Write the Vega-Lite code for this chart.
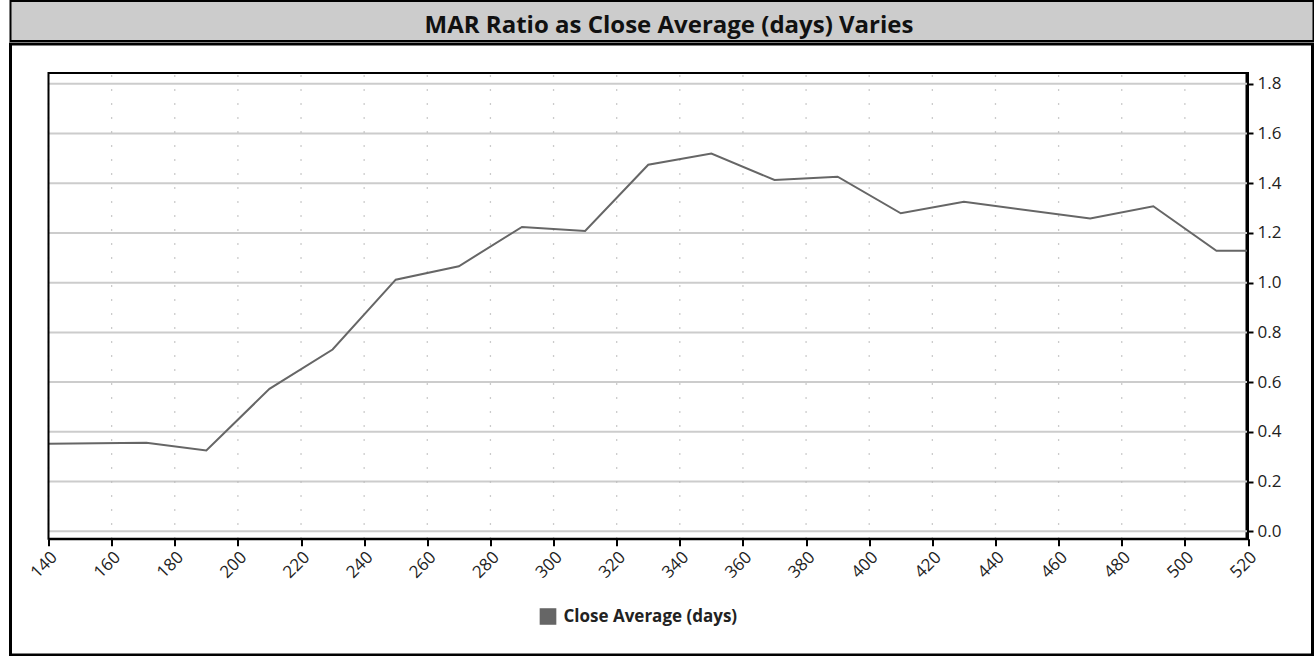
{
  "$schema": "https://vega.github.io/schema/vega-lite/v6.json",
  "padding": {"left": 8.5, "top": 0, "right": 0, "bottom": 0},
  "background": "white",
  "spacing": 0,
  "config": {"font": "Open Sans"},
  "vconcat": [
    {
      "width": 1303,
      "height": 40,
      "view": {"fill": "#cccccc", "stroke": "black", "strokeWidth": 2},
      "data": {"values": [{"t": "MAR Ratio as Close Average (days) Varies"}]},
      "mark": {"type": "text", "font": "Open Sans", "fontWeight": "bold", "fontSize": 24, "color": "#111111", "dx": 7, "dy": 5, "baseline": "middle"},
      "encoding": {"text": {"field": "t", "type": "nominal"}}
    },
    {
      "width": 1302,
      "height": 611,
      "view": {"fill": "white", "stroke": "black", "strokeWidth": 3},
      "layer": [
        {
          "data": {"values": [{"g": 0}, {"g": 0.2}, {"g": 0.4}, {"g": 0.6}, {"g": 0.8}, {"g": 1.0}, {"g": 1.2}, {"g": 1.4}, {"g": 1.6}, {"g": 1.8}]},
          "mark": {"type": "rule", "color": "#cccccc", "strokeWidth": 2},
          "encoding": {
            "y": {"field": "g", "type": "quantitative"},
            "x": {"datum": 140, "type": "quantitative"},
            "x2": {"datum": 520}
          }
        },
        {
          "data": {"values": [{"d": 140}, {"d": 160}, {"d": 180}, {"d": 200}, {"d": 220}, {"d": 240}, {"d": 260}, {"d": 280}, {"d": 300}, {"d": 320}, {"d": 340}, {"d": 360}, {"d": 380}, {"d": 400}, {"d": 420}, {"d": 440}, {"d": 460}, {"d": 480}, {"d": 500}, {"d": 520}]},
          "mark": {"type": "rule", "color": "#bbbbbb", "strokeWidth": 1.3, "strokeDash": [1.5, 12.5]},
          "encoding": {
            "x": {"field": "d", "type": "quantitative"},
            "y": {"datum": -0.03, "type": "quantitative"},
            "y2": {"datum": 1.843}
          }
        },
        {
          "data": {"values": [
            {"days": 140, "mar": 0.352},
            {"days": 171, "mar": 0.356},
            {"days": 190, "mar": 0.325},
            {"days": 210, "mar": 0.573},
            {"days": 230, "mar": 0.731},
            {"days": 250, "mar": 1.012},
            {"days": 270, "mar": 1.066},
            {"days": 290, "mar": 1.224},
            {"days": 310, "mar": 1.208},
            {"days": 330, "mar": 1.474},
            {"days": 350, "mar": 1.519},
            {"days": 370, "mar": 1.413},
            {"days": 390, "mar": 1.426},
            {"days": 410, "mar": 1.279},
            {"days": 430, "mar": 1.325},
            {"days": 470, "mar": 1.258},
            {"days": 490, "mar": 1.307},
            {"days": 510, "mar": 1.128},
            {"days": 520, "mar": 1.128}
          ]},
          "mark": {"type": "line", "strokeWidth": 2},
          "encoding": {
            "x": {
              "field": "days", "type": "quantitative",
              "scale": {"domain": [140, 520], "range": [38, 1237.5], "nice": false, "zero": false},
              "axis": {
                "orient": "bottom", "offset": -116.2, "title": null,
                "values": [140,160,180,200,220,240,260,280,300,320,340,360,380,400,420,440,460,480,500,520],
                "grid": false,
                "domain": true, "domainColor": "black", "domainWidth": 2,
                "ticks": true, "tickColor": "black", "tickWidth": 2, "tickSize": 7,
                "labelAngle": -45, "labelFontSize": 17, "labelColor": "#222222", "labelPadding": 3, "labelFont": "Open Sans"
              }
            },
            "y": {
              "field": "mar", "type": "quantitative",
              "scale": {"domain": [-0.03, 1.843], "range": [494.8, 29], "nice": false, "zero": false},
              "axis": {
                "orient": "right", "offset": -66.5, "title": null,
                "values": [0, 0.2, 0.4, 0.6, 0.8, 1.0, 1.2, 1.4, 1.6, 1.8], "format": ".1f",
                "grid": false,
                "domain": true, "domainColor": "black", "domainWidth": 2,
                "ticks": true, "tickColor": "black", "tickWidth": 2, "tickSize": 7,
                "labelFontSize": 17, "labelColor": "#222222", "labelPadding": 4, "labelFont": "Open Sans"
              }
            },
            "color": {
              "datum": "Close Average (days)",
              "scale": {"range": ["#666666"]},
              "legend": {
                "orient": "none", "legendX": 529, "legendY": 607, "title": null,
                "symbolType": "square", "symbolSize": 230, "labelLimit": 0,
                "labelFontSize": 17, "labelFontWeight": "bold", "labelColor": "#222222", "labelFont": "Open Sans", "labelOffset": 7,
                "encode": {"symbols": {"update": {"fill": {"value": "#666666"}, "stroke": {"value": "black"}, "strokeWidth": {"value": 1.5}, "shape": {"value": "square"}, "size": {"value": 230}}}}
              }
            }
          }
        },
        {
          "data": {"values": [{"box": "plot"}]},
          "mark": {"type": "rect", "fill": "transparent", "stroke": "black", "strokeWidth": 2},
          "encoding": {
            "x": {"datum": 140, "type": "quantitative"},
            "x2": {"datum": 520},
            "y": {"datum": -0.03, "type": "quantitative"},
            "y2": {"datum": 1.843}
          }
        }
      ]
    }
  ]
}
